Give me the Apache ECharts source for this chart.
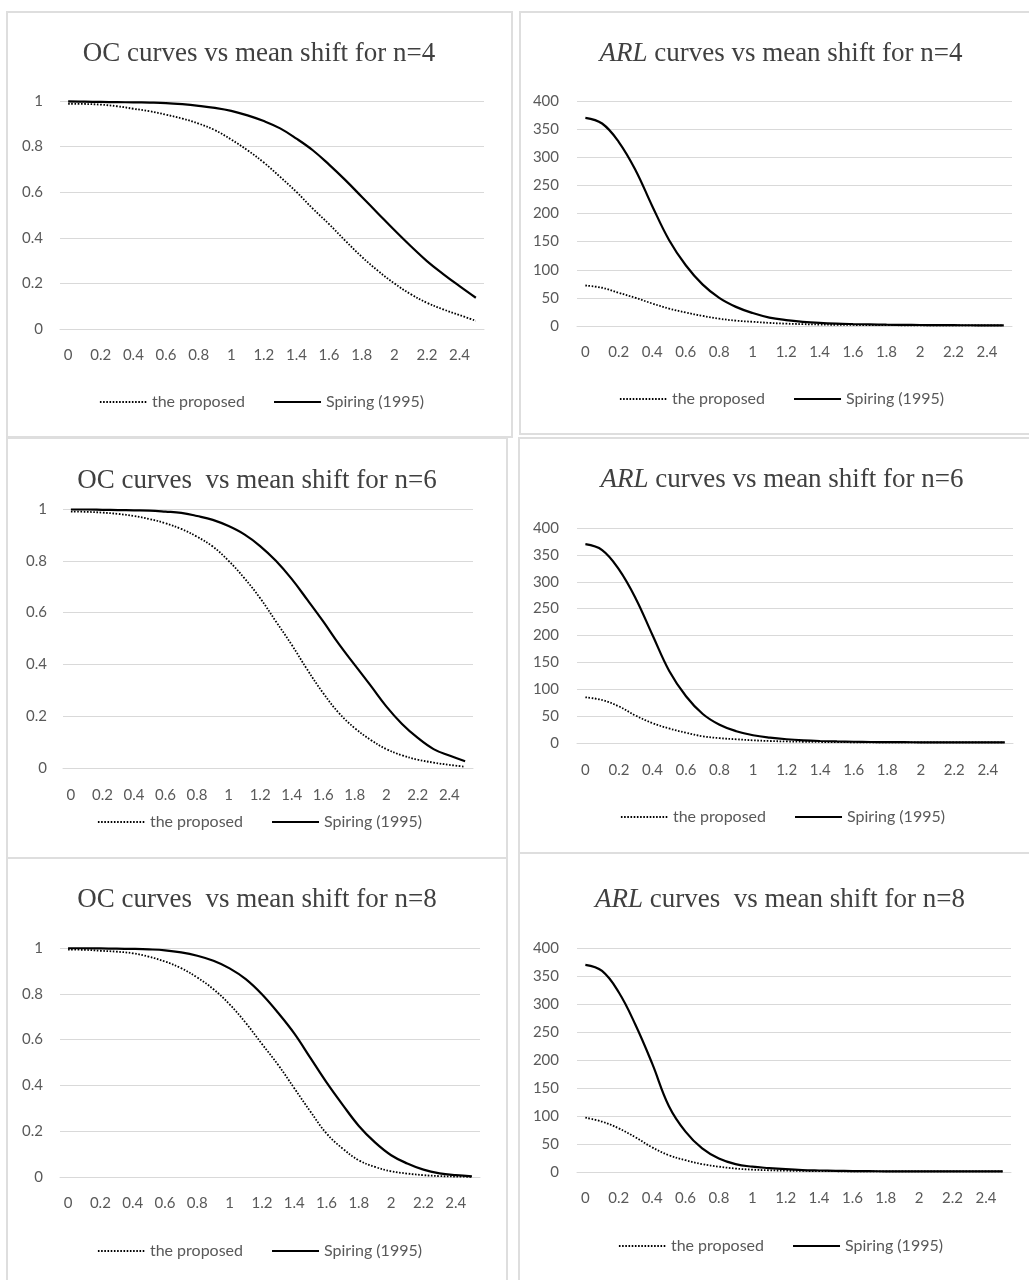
<!DOCTYPE html>
<html><head><meta charset="utf-8">
<script src="https://cdn.jsdelivr.net/npm/echarts@6/dist/echarts.min.js"></script>
<style>
html,body{margin:0;padding:0;width:1029px;height:1280px;overflow:hidden;background:#fff;}
.box{position:absolute;border:2px solid #dedede;box-sizing:border-box;}
#chart{position:absolute;left:0;top:0;width:1029px;height:1280px;}
</style></head><body>
<div class="box" style="left:6px;top:11px;width:507px;height:427px"></div>
<div class="box" style="left:519px;top:11px;width:530px;height:424px"></div>
<div class="box" style="left:6px;top:437px;width:502px;height:422px"></div>
<div class="box" style="left:518px;top:437px;width:530px;height:417px"></div>
<div class="box" style="left:6px;top:857px;width:502px;height:500px"></div>
<div class="box" style="left:518px;top:852px;width:530px;height:500px"></div>
<div id="chart"></div>
<script>
// ---- data ----
const shiftCategories = ['0','0.1','0.2','0.3','0.4','0.5','0.6','0.7','0.8','0.9','1','1.1','1.2','1.3','1.4','1.5','1.6','1.7','1.8','1.9','2','2.1','2.2','2.3','2.4','2.5'];
const seriesNames = ['the proposed', 'Spiring (1995)'];
const ocYTicks = {min: 0, max: 1, interval: 0.2};
const arlYTicks = {min: 0, max: 400, interval: 50};

const ocProposedN4 = [0.988,0.987,0.984,0.977,0.966,0.955,0.940,0.923,0.901,0.872,0.831,0.784,0.730,0.667,0.601,0.528,0.460,0.387,0.317,0.255,0.200,0.153,0.115,0.086,0.061,0.036];
const ocSpiringN4  = [0.998,0.997,0.996,0.995,0.994,0.993,0.991,0.986,0.979,0.970,0.957,0.937,0.912,0.880,0.835,0.784,0.721,0.653,0.580,0.507,0.434,0.364,0.298,0.241,0.188,0.137];
const arlProposedN4 = [72,68,59,50,40,31,24,18,13,9.5,7.5,5.5,4.2,3.3,2.6,2.1,1.85,1.6,1.45,1.35,1.25,1.18,1.13,1.09,1.07,1.04];
const arlSpiringN4  = [370,360,327,277,213,153,108,74,50,34,23,15,10.5,7.5,5.5,4.2,3.4,2.8,2.3,2.0,1.75,1.55,1.42,1.32,1.23,1.16];

const ocProposedN6 = [0.990,0.989,0.986,0.981,0.973,0.961,0.945,0.923,0.893,0.855,0.800,0.733,0.656,0.566,0.476,0.379,0.289,0.212,0.154,0.109,0.073,0.049,0.032,0.021,0.012,0.005];
const ocSpiringN6  = [0.998,0.998,0.997,0.996,0.995,0.994,0.990,0.985,0.973,0.958,0.934,0.902,0.857,0.800,0.730,0.649,0.566,0.478,0.398,0.319,0.238,0.170,0.116,0.073,0.048,0.026];
const arlProposedN6 = [85,80,68,51,37,27,19,12.5,9,6.9,5.0,3.7,2.9,2.3,1.9,1.6,1.4,1.27,1.18,1.12,1.08,1.05,1.03,1.02,1.01,1.005];
const arlSpiringN6  = [370,359,323,269,201,134,87,54,34,22,14.5,10,7,5,3.7,2.85,2.3,1.9,1.66,1.47,1.31,1.2,1.13,1.08,1.05,1.03];

const ocProposedN8 = [0.993,0.992,0.988,0.984,0.977,0.962,0.941,0.912,0.871,0.820,0.754,0.673,0.581,0.490,0.388,0.286,0.190,0.124,0.073,0.044,0.025,0.015,0.008,0.004,0.002,0.001];
const ocSpiringN8  = [0.999,0.999,0.998,0.997,0.996,0.994,0.990,0.981,0.966,0.944,0.911,0.864,0.798,0.717,0.627,0.520,0.413,0.315,0.223,0.151,0.095,0.059,0.032,0.016,0.008,0.003];
const arlProposedN8 = [97,90,78,62,44,30,21,14,9.5,6.2,4.2,3.1,2.4,1.96,1.63,1.4,1.23,1.14,1.08,1.05,1.03,1.015,1.008,1.004,1.002,1.001];
const arlSpiringN8  = [370,359,321,263,194,118,72,42,24,14,9.5,7,5,3.5,2.7,2.1,1.7,1.46,1.29,1.18,1.1,1.06,1.03,1.02,1.01,1.0];

const titleTexts = [
  'OC curves vs mean shift for n=4',
  '{i|ARL} curves vs mean shift for n=4',
  'OC curves  vs mean shift for n=6',
  '{i|ARL} curves vs mean shift for n=6',
  'OC curves  vs mean shift for n=8',
  '{i|ARL} curves  vs mean shift for n=8'
];

// ---- layout (page pixels) ----
const panels = [
  {grid:{left:60, top:101, width:424, height:228}, title:[259,54], legend:[99,394], labelMargin:19, yMargin:17, ticks:ocYTicks,  data:[ocProposedN4, ocSpiringN4]},
  {grid:{left:577,top:101, width:435, height:225}, title:[781,54], legend:[619,391], labelMargin:19, yMargin:18, ticks:arlYTicks, data:[arlProposedN4, arlSpiringN4]},
  {grid:{left:63, top:509, width:410, height:259}, title:[257,481], legend:[97,814], labelMargin:20, yMargin:16, ticks:ocYTicks,  data:[ocProposedN6, ocSpiringN6]},
  {grid:{left:577,top:528, width:436, height:215}, title:[782,480], legend:[620,809], labelMargin:20, yMargin:18, ticks:arlYTicks, data:[arlProposedN6, arlSpiringN6]},
  {grid:{left:60, top:948, width:420, height:229}, title:[257,900], legend:[97,1243], labelMargin:19, yMargin:17, ticks:ocYTicks,  data:[ocProposedN8, ocSpiringN8]},
  {grid:{left:577,top:948, width:434, height:224}, title:[780,900], legend:[618,1238], labelMargin:19, yMargin:18, ticks:arlYTicks, data:[arlProposedN8, arlSpiringN8]}
];

const axisColor = '#595959';
const gridColor = '#d9d9d9';
const labelFont = 'Lato';
const titleFont = 'Liberation Serif';
const dotted = [1.6, 1.6];

const option = {
  animation: false,
  title: panels.map((p, i) => ({
    text: titleTexts[i],
    left: p.title[0], top: p.title[1],
    textAlign: 'center', textVerticalAlign: 'middle', padding: 0,
    textStyle: {
      fontFamily: titleFont, fontSize: 27, fontWeight: 'normal', color: '#404040',
      rich: { i: { fontFamily: titleFont, fontSize: 27, fontStyle: 'italic', color: '#404040' } }
    }
  })),
  legend: panels.map((p, i) => ({
    left: p.legend[0], top: p.legend[1], padding: 0,
    itemWidth: 47, itemHeight: 16, itemGap: 28,
    textStyle: { fontFamily: labelFont, fontSize: 16, color: axisColor },
    data: [
      { name: seriesNames[0], itemStyle: { opacity: 0 }, lineStyle: { width: 1.8, type: dotted, opacity: 1 } },
      { name: seriesNames[1], itemStyle: { opacity: 0 }, lineStyle: { width: 2, opacity: 1 } }
    ]
  })),
  grid: panels.map(p => Object.assign({containLabel: false}, p.grid)),
  xAxis: panels.map((p, i) => ({
    type: 'category', gridIndex: i, data: shiftCategories, boundaryGap: true,
    axisTick: { show: false },
    axisLine: { lineStyle: { color: gridColor, width: 1 } },
    axisLabel: { interval: 1, margin: p.labelMargin, color: axisColor, fontFamily: labelFont, fontSize: 15 }
  })),
  yAxis: panels.map((p, i) => ({
    type: 'value', gridIndex: i, min: p.ticks.min, max: p.ticks.max, interval: p.ticks.interval,
    axisLine: { show: false }, axisTick: { show: false },
    splitLine: { lineStyle: { color: gridColor, width: 1 } },
    axisLabel: { margin: p.yMargin, color: axisColor, fontFamily: labelFont, fontSize: 15 }
  })),
  series: panels.flatMap((p, i) => [
    { name: seriesNames[0], type: 'line', xAxisIndex: i, yAxisIndex: i, data: p.data[0],
      symbol: 'none', smooth: 0.4,
      lineStyle: { color: '#000', width: 1.8, type: dotted }, itemStyle: { color: '#000' } },
    { name: seriesNames[1], type: 'line', xAxisIndex: i, yAxisIndex: i, data: p.data[1],
      symbol: 'none', smooth: 0.4,
      lineStyle: { color: '#000', width: 2.2 }, itemStyle: { color: '#000' } }
  ])
};

const chart = echarts.init(document.getElementById('chart'), null, {renderer: 'canvas'});
chart.setOption(option);
</script>
</body></html>
